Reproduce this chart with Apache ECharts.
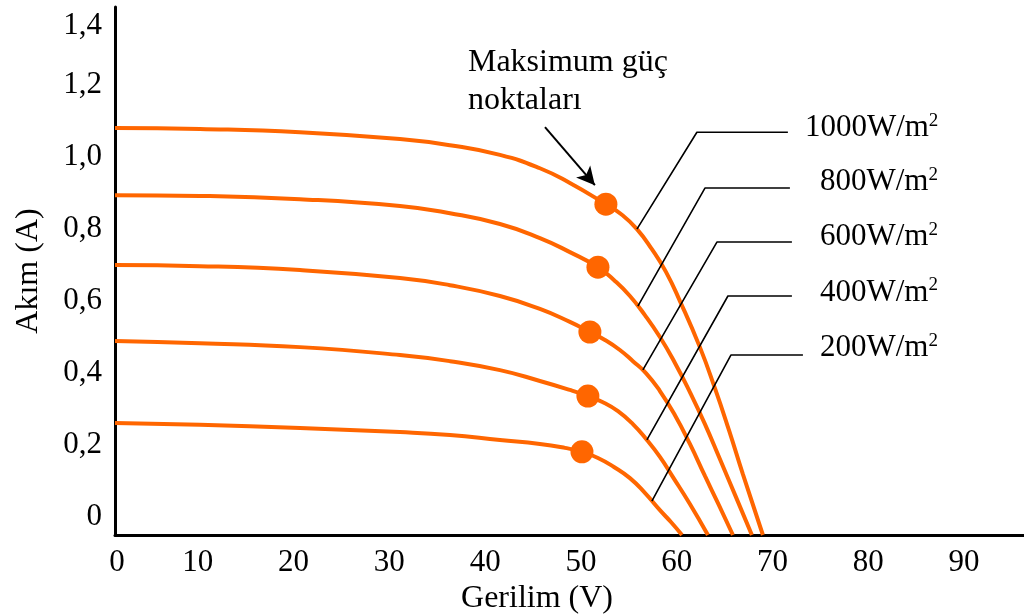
<!DOCTYPE html>
<html>
<head>
<meta charset="utf-8">
<script src="https://cdn.jsdelivr.net/npm/echarts@6/dist/echarts.min.js"></script>
<style>
  html, body { margin: 0; padding: 0; background: #ffffff; }
  #chart { width: 1024px; height: 614px; }
</style>
</head>
<body>
<div id="chart"></div>
<script>
// I-V curves of a PV module at five irradiance levels (voltage in V, current in A)
const irradiance = [1000, 800, 600, 400, 200];

const voltage1000 = [0, 8.87, 19.31, 29.75, 34.97, 40.19, 44.36, 47.49, 51.25, 52.82, 54.49, 56.05, 57.52, 58.98, 61.06, 62.63, 64.09, 65.55, 67.64];
const current1000 = [1.131, 1.128, 1.119, 1.100, 1.083, 1.056, 1.019, 0.978, 0.919, 0.892, 0.850, 0.794, 0.731, 0.650, 0.522, 0.408, 0.292, 0.169, 0];

const voltage800 = [0, 8.87, 19.31, 29.75, 34.97, 40.19, 44.36, 47.49, 50.42, 52.19, 53.76, 55.32, 56.89, 58.46, 60.02, 61.59, 63.15, 64.82, 66.49];
const current800 = [0.944, 0.942, 0.933, 0.914, 0.894, 0.864, 0.825, 0.786, 0.744, 0.706, 0.664, 0.611, 0.550, 0.478, 0.397, 0.308, 0.211, 0.106, 0];

const voltage600 = [0, 8.87, 19.31, 29.75, 34.97, 40.19, 44.36, 47.49, 49.58, 51.15, 52.71, 54.07, 55.43, 56.89, 58.46, 60.02, 61.59, 63.05, 64.51];
const current600 = [0.750, 0.747, 0.736, 0.714, 0.694, 0.664, 0.628, 0.592, 0.564, 0.542, 0.514, 0.483, 0.450, 0.400, 0.333, 0.253, 0.164, 0.083, 0];

const voltage400 = [0, 8.87, 19.31, 29.75, 34.97, 40.19, 44.36, 47.49, 49.37, 50.94, 52.51, 54.07, 55.53, 56.89, 58.25, 60.02, 61.90];
const current400 = [0.539, 0.533, 0.522, 0.500, 0.483, 0.458, 0.428, 0.403, 0.386, 0.369, 0.344, 0.308, 0.264, 0.217, 0.161, 0.086, 0];

const voltage200 = [0, 8.87, 19.31, 29.75, 34.97, 40.19, 44.36, 46.97, 48.75, 50.42, 52.09, 53.76, 55.32, 56.89, 58.04, 59.19];
const current200 = [0.311, 0.306, 0.297, 0.286, 0.278, 0.264, 0.253, 0.242, 0.231, 0.214, 0.189, 0.158, 0.117, 0.069, 0.036, 0];

// maximum power points, one per irradiance level
const mppVoltage = [51.25, 50.42, 49.58, 49.37, 48.75];
const mppCurrent = [0.919, 0.744, 0.564, 0.386, 0.231];

// leader lines from each curve to its irradiance label: [on curve, elbow, end]
const leaderVoltage = [
  [54.49, 60.75, 70.25],
  [54.59, 61.59, 70.46],
  [55.11, 62.84, 70.67],
  [55.53, 63.99, 70.67],
  [56.05, 64.30, 71.82]
];
const leaderCurrent = [
  [0.850, 1.119, 1.119],
  [0.636, 0.964, 0.964],
  [0.459, 0.814, 0.814],
  [0.264, 0.664, 0.664],
  [0.094, 0.500, 0.500]
];

// callout for the maximum power points
const calloutLines = ['Maksimum güç', 'noktaları'];
const calloutAnchor = [36.85, 1.261];
const arrowFrom = [44.89, 1.133];
const arrowTo = [50.10, 0.972];

const xAxisTitle = 'Gerilim (V)';
const yAxisTitle = 'Akım (A)';

const curves = [
  [voltage1000, current1000],
  [voltage800, current800],
  [voltage600, current600],
  [voltage400, current400],
  [voltage200, current200]
];

const FONT = "'Liberation Serif', 'Times New Roman', serif";
const ORANGE = '#ff6600';
const labelOffsets = [[17, -4], [30, -6], [28, -5], [28, -3], [17, -7]];

const zip = (xs, ys) => xs.map((x, i) => [x, ys[i]]);

const series = [];

curves.forEach(([v, c], k) => {
  series.push({
    name: irradiance[k] + ' W/m2',
    type: 'line',
    data: zip(v, c),
    smooth: 0.5,
    symbol: 'none',
    lineStyle: { color: ORANGE, width: 4 },
    z: 2
  });
});

leaderVoltage.forEach((v, k) => {
  series.push({
    name: 'leader ' + irradiance[k],
    type: 'line',
    data: zip(v, leaderCurrent[k]),
    symbol: 'none',
    lineStyle: { color: '#000', width: 1.6 },
    z: 3,
    endLabel: {
      show: true,
      distance: 0,
      offset: labelOffsets[k],
      align: 'left',
      formatter: '{n|' + irradiance[k] + 'W/m}{s|2}',
      rich: {
        n: { fontFamily: FONT, fontSize: 31, color: '#000', lineHeight: 34 },
        s: { fontFamily: FONT, fontSize: 19, color: '#000', lineHeight: 18, verticalAlign: 'top' }
      }
    }
  });
});

series.push({
  name: 'mpp',
  type: 'scatter',
  data: zip(mppVoltage, mppCurrent),
  symbol: 'circle',
  symbolSize: 23,
  itemStyle: { color: ORANGE, opacity: 1 },
  z: 4
});

series.push({
  name: 'callout',
  type: 'scatter',
  data: [calloutAnchor],
  symbolSize: 0,
  itemStyle: { opacity: 1 },
  z: 5,
  label: {
    show: true,
    position: [0, 0],
    align: 'left',
    verticalAlign: 'middle',
    formatter: calloutLines.join('\n'),
    fontFamily: FONT,
    fontSize: 32,
    lineHeight: 38,
    color: '#000'
  },
  markLine: {
    silent: true,
    symbol: ['none', 'arrow'],
    symbolSize: [14, 18],
    label: { show: false },
    lineStyle: { color: '#000', width: 2, type: 'solid', opacity: 1 },
    data: [[{ coord: arrowFrom }, { coord: arrowTo }]]
  }
});

const chart = echarts.init(document.getElementById('chart'), null, { renderer: 'canvas' });
chart.setOption({
  animation: false,
  backgroundColor: '#ffffff',
  grid: { left: 115, right: 0, top: 7, bottom: 79, containLabel: false, outerBoundsMode: 'none' },
  xAxis: {
    type: 'value',
    min: 0,
    max: 94.9,
    interval: 10,
    name: xAxisTitle,
    nameLocation: 'middle',
    nameGap: 40,
    nameTextStyle: { fontFamily: FONT, fontSize: 32, color: '#000', padding: [0, 65, 0, 0] },
    axisLine: { lineStyle: { color: '#000', width: 3 } },
    axisTick: { show: false },
    splitLine: { show: false },
    axisLabel: {
      margin: 12,
      showMaxLabel: false,
      formatter: v => (v === 0 ? '{z|0}' : '{n|' + v + '}'),
      rich: {
        z: { fontFamily: FONT, fontSize: 31, color: '#000', padding: [0, 0, 0, 4] },
        n: { fontFamily: FONT, fontSize: 31, color: '#000', padding: [0, 26, 0, 0] }
      }
    }
  },
  yAxis: {
    type: 'value',
    min: 0,
    max: 1.467,
    interval: 0.2,
    name: yAxisTitle,
    nameLocation: 'middle',
    nameGap: 70,
    nameTextStyle: { fontFamily: FONT, fontSize: 32, color: '#000' },
    axisLine: { show: true, lineStyle: { color: '#000', width: 3 } },
    axisTick: { show: false },
    splitLine: { show: false },
    axisLabel: {
      margin: 13,
      showMaxLabel: false,
      formatter: v => {
        const t = v === 0 ? '0' : v.toFixed(1).replace('.', ',');
        return (v > 1.35 ? '{t|' : '{n|') + t + '}';
      },
      rich: {
        n: { fontFamily: FONT, fontSize: 31, color: '#000', padding: [0, 0, 36, 0] },
        t: { fontFamily: FONT, fontSize: 31, color: '#000', padding: [0, 0, 10, 0] }
      }
    }
  },
  series: series
});
</script>
</body>
</html>
